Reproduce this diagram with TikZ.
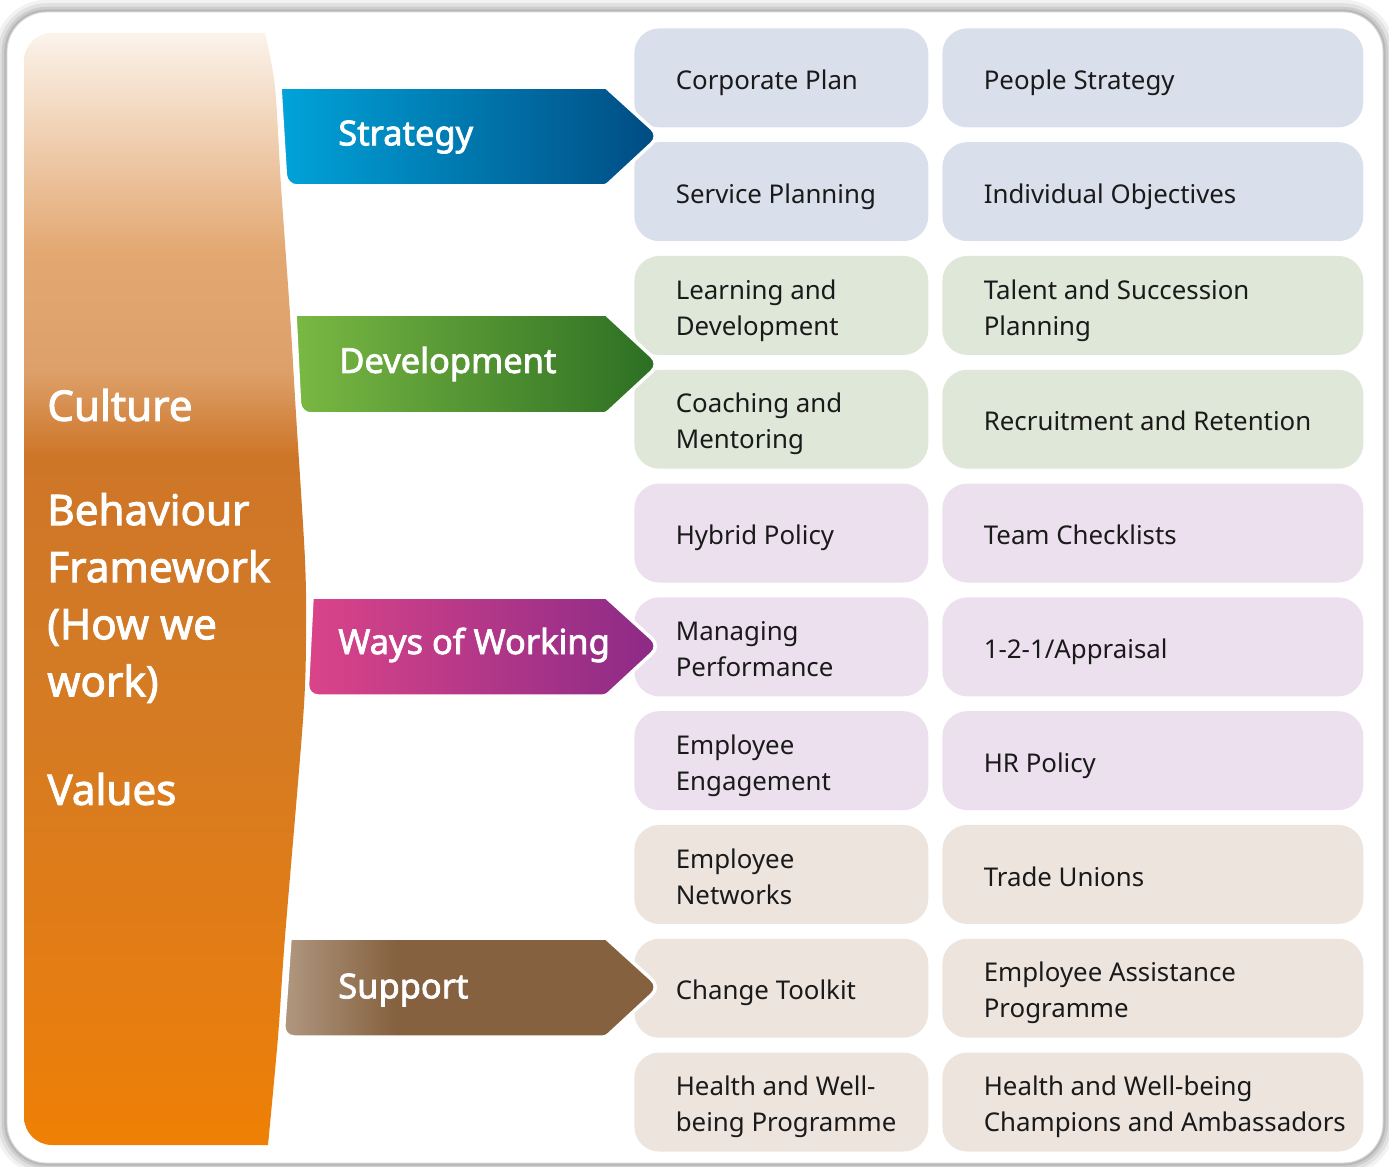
\documentclass[tikz,border=0pt]{standalone}
\usepackage{fontspec}
\setmainfont{Noto Sans}
\newfontfamily\hrbold{Noto Sans}[FakeBold=2.2]
\usepackage{tikz}

\definecolor{cultA}{HTML}{FBF3EB}
\definecolor{cultB}{HTML}{E3A872}
\definecolor{cultC}{HTML}{DDA06A}
\definecolor{cultD}{HTML}{CE7628}
\definecolor{cultE}{HTML}{D47B24}
\definecolor{cultF}{HTML}{E57D12}
\definecolor{cultG}{HTML}{EF8005}
\definecolor{stratL}{HTML}{00A3D9}
\definecolor{stratR}{HTML}{004B82}
\definecolor{devL}{HTML}{7AB843}
\definecolor{devR}{HTML}{2B6E22}
\definecolor{waysL}{HTML}{DA4489}
\definecolor{waysR}{HTML}{8B2A87}
\definecolor{suppL}{HTML}{B09880}
\definecolor{suppR}{HTML}{85613F}
\definecolor{cellblue}{HTML}{D9E0EC}
\definecolor{cellgreen}{HTML}{DFE7D8}
\definecolor{cellpurple}{HTML}{ECE0EF}
\definecolor{cellbrown}{HTML}{EDE4DE}
\definecolor{celltextcol}{HTML}{1A1A1A}

\pgfdeclareverticalshading{cultshade}{100bp}{color(0bp)=(cultG); color(25bp)=(cultG);
  color(31.5bp)=(cultF); color(45bp)=(cultE); color(56bp)=(cultD); color(59.8bp)=(cultC);
  color(65.2bp)=(cultB); color(75bp)=(cultA); color(100bp)=(cultA)}
\pgfdeclarehorizontalshading{suppshade}{100bp}{color(0bp)=(suppL); color(25bp)=(suppL);
  color(40bp)=(suppR); color(100bp)=(suppR)}

\tikzset{
  cellbox/.style={inner sep=0pt, rounded corners=0.5cm, minimum height=1.98cm, anchor=north west},
  celltext/.style={inner sep=0pt, anchor=west, align=left, text=celltextcol,
    font=\fontsize{14.7pt}{20.4pt}\selectfont},
  arrowbody/.style={draw=white, line width=2pt},
  arrowlabel/.style={inner sep=0pt, anchor=west, text=white,
    font=\hrbold\fontsize{19.6pt}{22pt}\selectfont},
  cultlabel/.style={inner sep=0pt, anchor=west, align=left, text=white,
    font=\hrbold\fontsize{24pt}{32.5pt}\selectfont}
}

% name, left x, row, width, fill, text
\newcommand{\hrcell}[6]{%
  \node[cellbox, fill=#5, minimum width=#4] (#1) at (#2,{28+113.8*#3}) {};
  \node[celltext] (#1-t) at ([xshift=0.83cm,yshift=-0.09cm]#1.west) {\strut#6\strut};
}

\begin{document}
\begin{tikzpicture}[x=0.02cm,y=-0.02cm]
	\useasboundingbox (0,0) rectangle (1389,1166);
	
	% frame and its shadow
	\foreach \w/\o in {14pt/0.05,10pt/0.07,6pt/0.09,3pt/0.1}
		\draw[black, opacity=\o, line width=\w, rounded corners=0.8cm] (7,12) rectangle (1383,1163);
	\fill[white, rounded corners=0.8cm] (7,12) rectangle (1383,1163);
	\draw[gray!30, line width=0.5pt, rounded corners=0.8cm] (7,12) rectangle (1383,1163);
	
	% culture band
	\shade[shading=cultshade] (52,33) arc[start angle=90, end angle=180, radius=0.56cm]
		-- (24,1117) arc[start angle=180, end angle=270, radius=0.56cm]
		-- plot[smooth] coordinates {(268,1145) (278,1037) (285,937) (303,720) (306,640)
			(305,560) (296,414) (290,314) (281,186) (275,87) (265,33)} -- cycle;
	\node[cultlabel] (culture) at (47,405) {Culture};
	\node[cultlabel] (behaviour) at (47,598) {Behaviour\\Framework\\(How we\\work)};
	\node[cultlabel] (values) at (47,789) {Values};
	
	% cells
	\hrcell{corp}{634}{0}{5.88cm}{cellblue}{Corporate Plan}
	\hrcell{people}{942}{0}{8.42cm}{cellblue}{People Strategy}
	\hrcell{service}{634}{1}{5.88cm}{cellblue}{Service Planning}
	\hrcell{objectives}{942}{1}{8.42cm}{cellblue}{Individual Objectives}
	\hrcell{learning}{634}{2}{5.88cm}{cellgreen}{Learning and\\Development}
	\hrcell{talent}{942}{2}{8.42cm}{cellgreen}{Talent and Succession\\Planning}
	\hrcell{coaching}{634}{3}{5.88cm}{cellgreen}{Coaching and\\Mentoring}
	\hrcell{recruit}{942}{3}{8.42cm}{cellgreen}{Recruitment and Retention}
	\hrcell{hybrid}{634}{4}{5.88cm}{cellpurple}{Hybrid Policy}
	\hrcell{checklists}{942}{4}{8.42cm}{cellpurple}{Team Checklists}
	\hrcell{managing}{634}{5}{5.88cm}{cellpurple}{Managing\\Performance}
	\hrcell{appraisal}{942}{5}{8.42cm}{cellpurple}{1-2-1/Appraisal}
	\hrcell{engagement}{634}{6}{5.88cm}{cellpurple}{Employee\\Engagement}
	\hrcell{hrpolicy}{942}{6}{8.42cm}{cellpurple}{HR Policy}
	\hrcell{networks}{634}{7}{5.88cm}{cellbrown}{Employee\\Networks}
	\hrcell{unions}{942}{7}{8.42cm}{cellbrown}{Trade Unions}
	\hrcell{toolkit}{634}{8}{5.88cm}{cellbrown}{Change Toolkit}
	\hrcell{assistance}{942}{8}{8.42cm}{cellbrown}{Employee Assistance\\Programme}
	\hrcell{wellbeing}{634}{9}{5.88cm}{cellbrown}{Health and Well-\\being Programme}
	\hrcell{champions}{942}{9}{8.42cm}{cellbrown}{Health and Well-being\\Champions and Ambassadors}
	
	% arrows
	\shadedraw[arrowbody, left color=stratL, right color=stratR] (280,87) -- (606,87)
		[rounded corners=0.22cm] -- (660,136) [rounded corners=0.06cm] -- (606,186)
		[rounded corners=0.22cm] -- (286,186) [sharp corners] -- cycle;
	\node[arrowlabel] (strategy) at (338,137) {Strategy};
	
	\shadedraw[arrowbody, left color=devL, right color=devR] (295,314) -- (606,314)
		[rounded corners=0.22cm] -- (660,364) [rounded corners=0.06cm] -- (606,414)
		[rounded corners=0.22cm] -- (300,414) [sharp corners] -- cycle;
	\node[arrowlabel] (development) at (339,364) {Development};
	
	\shadedraw[arrowbody, left color=waysL, right color=waysR] (312,597) -- (606,597)
		[rounded corners=0.22cm] -- (660,646) [rounded corners=0.06cm] -- (606,696)
		[rounded corners=0.22cm] -- (307,696) [sharp corners] -- cycle;
	\node[arrowlabel] (ways) at (338,645) {Ways of Working};
	
	\shadedraw[arrowbody, shading=suppshade] (290,938) -- (606,938)
		[rounded corners=0.22cm] -- (660,987) [rounded corners=0.06cm] -- (606,1037)
		[rounded corners=0.22cm] -- (283,1037) [sharp corners] -- cycle;
	\node[arrowlabel] (support) at (338,990) {Support};
	
\end{tikzpicture}
\end{document}
